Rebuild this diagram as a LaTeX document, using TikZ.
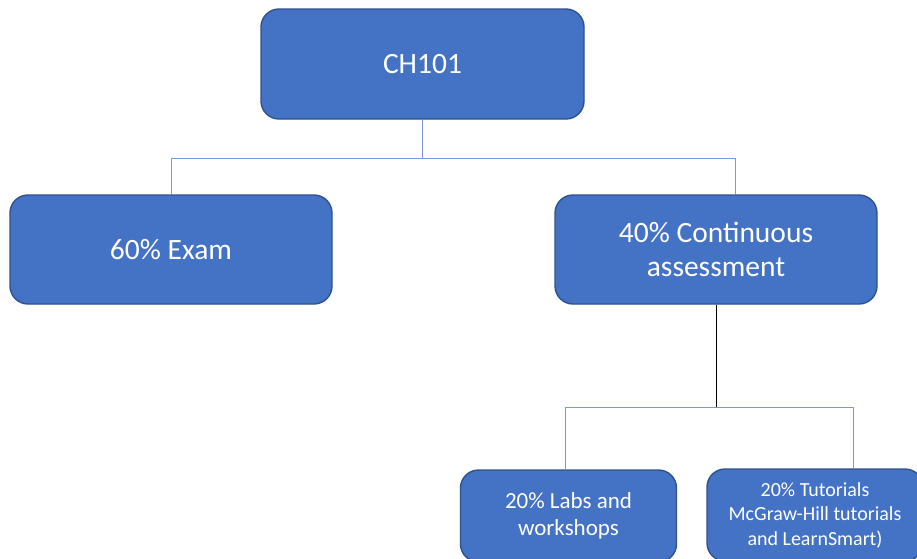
\documentclass[tikz,border=0pt]{standalone}
\usepackage{fontspec}
\setmainfont{Carlito}
\definecolor{boxfill}{RGB}{68,114,196}
\definecolor{boxedge}{RGB}{47,82,143}
\definecolor{linkblue}{RGB}{122,153,214}
\begin{document}
\begin{tikzpicture}[x = 1pt, y = -1pt,
        box/.style = {draw = boxedge, fill = boxfill, line width = 1.4pt, rounded corners = 18pt, text = white, align = center, inner sep = 0pt},
        link/.style = {draw = linkblue, line width = 0.9pt}]
        \useasboundingbox (0, 0) rectangle (917, 558);
        \clip (0, 0) rectangle (917, 558);
        \node [box, minimum width = 323pt, minimum height = 110pt, font = \fontsize{29.5}{34}\selectfont] (ch) at (422.5, 64) {CH101};
        \node [box, minimum width = 322pt, minimum height = 109pt, font = \fontsize{29.5}{34}\selectfont] (exam) at (171, 249.5) {60\% Exam};
        \node [box, minimum width = 322pt, minimum height = 109pt, font = \fontsize{29.5}{34}\selectfont] (cont) at (716, 249.5) {40\% Continuous\\assessment};
        \node [box, minimum width = 216pt, minimum height = 92pt, font = \fontsize{23}{27}\selectfont] (labs) at (568.5, 516) {20\% Labs and\\workshops};
        \node [box, minimum width = 216pt, minimum height = 92pt, font = \fontsize{20}{24.5}\selectfont] (tut) at (815, 515) {20\% Tutorials\\McGraw-Hill tutorials\\and LearnSmart)};
        \draw [link] (ch.south) -- ++(0, 39) coordinate (split);
        \draw [link] (exam.north) |- (split) -| ([xshift = 19pt] cont.north);
        \draw [black, line width = 1pt] (cont.south) -- ++(0, 103) coordinate (split2);
        \draw [link] ([xshift = -3pt] labs.north) |- (split2) -| ([xshift = 38pt] tut.north);
    \end{tikzpicture}
\end{document}
